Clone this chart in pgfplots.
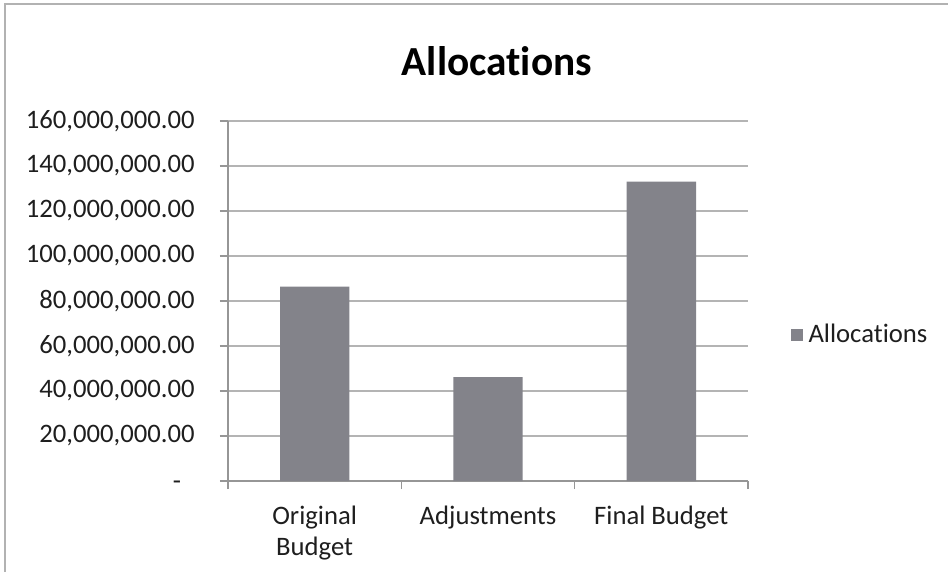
\documentclass[border=0pt]{standalone}
\usepackage{pgfplots}
\pgfplotsset{compat=1.18}
\usepackage{fontspec}
\setmainfont{Carlito}[RawFeature=-liga]
\definecolor{barcol}{RGB}{131,131,138}
\definecolor{gridcol}{RGB}{180,180,180}
\definecolor{axcol}{RGB}{150,150,150}
\definecolor{txt}{RGB}{30,30,30}
\begin{document}
\begin{tikzpicture}[x=1pt,y=1pt]
\useasboundingbox (-85.5,-34.125) rectangle (270,180.375);
\draw[gray!60, line width=0.6pt] (-83.6,-34.125) -- (-83.6,178.9) -- (270,178.9);
\begin{axis}[
  at={(0,0)}, anchor=south west,
  scale only axis,
  width=195pt, height=135pt,
  xmin=0.5, xmax=3.5,
  ymin=0, ymax=160000000,
  scaled y ticks=false,
  axis lines=left,
  axis line style={-, axcol, line width=0.45pt},
  tick align=outside,
  major tick length=3pt,
  tick style={axcol, line width=0.45pt},
  xtick={0.5,1.5,2.5,3.5},
  xticklabels={},
  extra x ticks={1,2,3},
  extra x tick labels={Original\\Budget, Adjustments, Final Budget},
  extra x tick style={major tick length=0pt, tick style={draw=none}},
  xticklabel style={align=center, font=\fontsize{10}{11.6}\selectfont, text=txt, yshift=-6pt},
  ytick={0,20000000,40000000,60000000,80000000,100000000,120000000,140000000,160000000},
  yticklabels={{-\phantom{0}},{20,000,000.00},{40,000,000.00},{60,000,000.00},{80,000,000.00},{100,000,000.00},{120,000,000.00},{140,000,000.00},{160,000,000.00}},
  yticklabel style={font=\fontsize{10}{12}\selectfont, text=txt, xshift=-6pt},
  ymajorgrids=true,
  grid style={gridcol, line width=0.4pt},
  title={Allocations},
  title style={at={(rel axis cs:0.517,1)}, anchor=center, yshift=16.5pt, font=\bfseries\fontsize{15.5}{18}\selectfont, text=black},
  legend style={at={(rel axis cs:1,0.405)}, anchor=west, xshift=13pt, draw=none, fill=none, font=\fontsize{10}{12}\selectfont, text=txt},
  ybar, bar width=0.4,
  legend image code/.code={\fill[barcol] (0pt,-2.2pt) rectangle (4.5pt,2.3pt);},
]
\addplot[fill=barcol, draw=none] coordinates {(1,86400000) (2,46200000) (3,133100000)};
\addlegendentry{Allocations}
\end{axis}
\end{tikzpicture}
\end{document}
